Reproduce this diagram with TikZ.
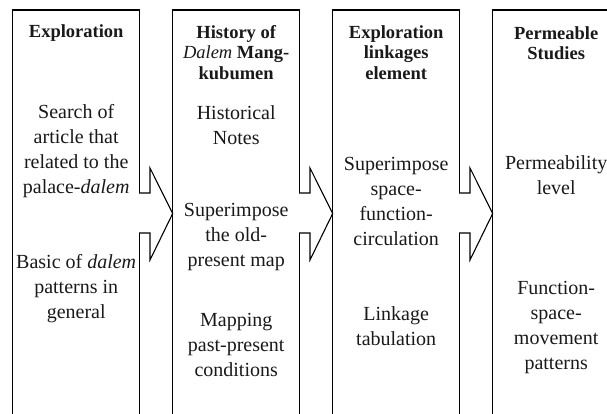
\documentclass[tikz,border=0pt]{standalone}
\usepackage{fontspec}
\setmainfont{Liberation Serif}
\usetikzlibrary{calc}
\begin{document}
\begin{tikzpicture}[x=1pt, y=-1pt,
      colbox/.style={draw, line width=1.1pt, minimum width=127pt, minimum height=430pt, anchor=north west, inner sep=0pt, outer sep=0pt},
      head/.style={font=\bfseries\fontsize{18.5}{20.5}\selectfont, align=center, inner sep=0pt, text=black!90},
      body/.style={font=\fontsize{20}{25}\selectfont, align=center, inner sep=0pt, text=black!90},
      blockarrow/.style={draw, fill=white, line width=1.1pt}]
    \useasboundingbox (0,0) rectangle (607,413);
    \clip (0,0) rectangle (607,413);
    \node[colbox] (b1) at (12.7,10) {};
    \node[colbox] (b2) at (172.7,10) {};
    \node[colbox] (b3) at (332.7,10) {};
    \node[colbox] (b4) at (492.7,10) {};
    \filldraw[blockarrow] ($(b1.north east |- 0,193)+(-0.6,0)$) -- ++(10.9,0) -- ++(0,-25) -- (b2.north west |- 0,213.5) -- ++(-22.7,46.5) -- ++(0,-27) -- ($(b1.north east |- 0,233)+(-0.6,0)$);
    \filldraw[blockarrow] ($(b2.north east |- 0,193)+(-0.6,0)$) -- ++(10.9,0) -- ++(0,-25) -- (b3.north west |- 0,213.5) -- ++(-22.7,46.5) -- ++(0,-27) -- ($(b2.north east |- 0,233)+(-0.6,0)$);
    \filldraw[blockarrow] ($(b3.north east |- 0,193)+(-0.6,0)$) -- ++(10.9,0) -- ++(0,-25) -- (b4.north west |- 0,213.5) -- ++(-22.7,46.5) -- ++(0,-27) -- ($(b3.north east |- 0,233)+(-0.6,0)$);
    \node[head] (h1) at (b1.north |- 0,33) {Exploration};
    \node[body] (s1) at (b1.north |- 0,151) {Search of\\article that\\related to the\\palace-\textit{dalem}};
    \node[body] (s2) at (b1.north |- 0,289) {Basic of \textit{dalem}\\patterns in\\general};
    \node[head] (h2) at (b2.north |- 0,52.5) {History of\\\textit{\mdseries Dalem} Mang-\\kubumen};
    \node[body] (n1) at (b2.north |- 0,125.5) {Historical\\Notes};
    \node[body] (n2) at (b2.north |- 0,237) {Superimpose\\the old-\\present map};
    \node[body] (n3) at (b2.north |- 0,345) {Mapping\\past-present\\conditions};
    \node[head] (h3) at (b3.north |- 0,52.5) {Exploration\\linkages\\element};
    \node[body] (e1) at (b3.north |- 0,201) {Superimpose\\space-\\function-\\circulation};
    \node[body] (e2) at (b3.north |- 0,326.5) {Linkage\\tabulation};
    \node[head] (h4) at (b4.north |- 0,43) {Permeable\\Studies};
    \node[body] (p1) at (b4.north |- 0,175.5) {Permeability\\level};
    \node[body] (p2) at (b4.north |- 0,327) {Function-\\space-\\movement\\patterns};
  \end{tikzpicture}
\end{document}
